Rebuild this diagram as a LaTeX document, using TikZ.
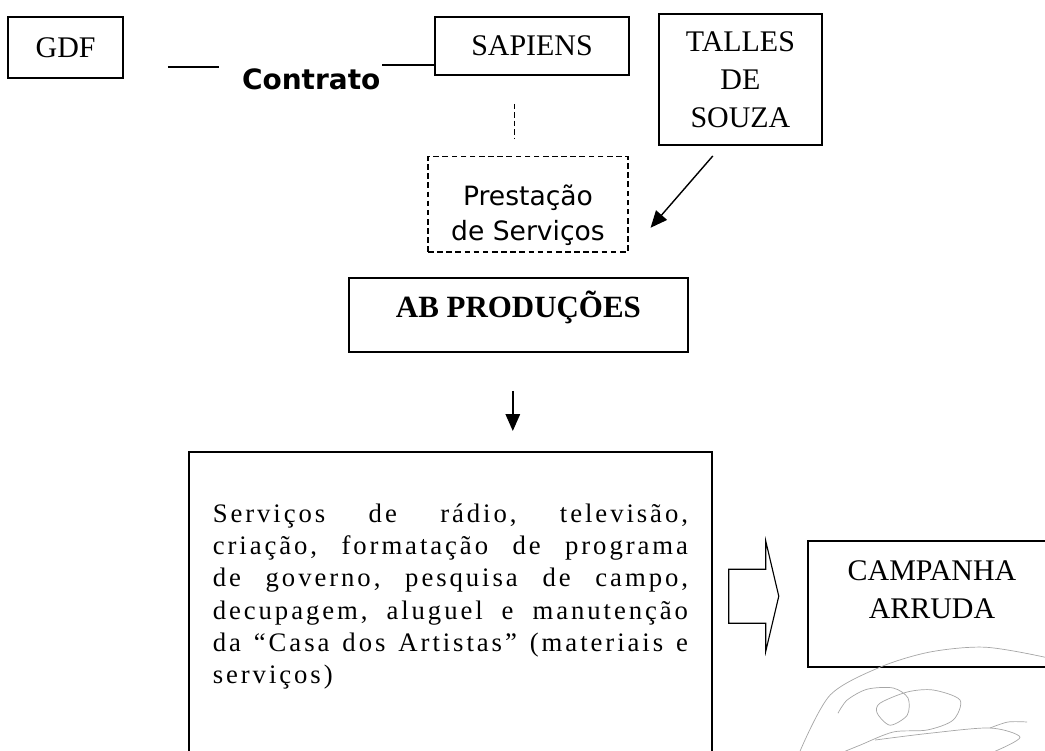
\documentclass[tikz,border=0pt]{standalone}
\usepackage{fontspec}
\setmainfont{Liberation Serif}
\newfontfamily\tahomafont{DejaVu Sans}
\newfontfamily\spacedfont[LetterSpace=11]{Liberation Serif}
\usetikzlibrary{arrows.meta,calc,positioning}
\newcommand{\fullline}[1]{\makebox[11.88cm][l]{#1}}

\begin{document}
\begin{tikzpicture}[
    box/.style={rectangle, draw, line width=1.1pt, inner sep=0pt, align=center, font=\fontsize{21.3}{27}\selectfont},
    dashbox/.style={rectangle, draw, dash pattern=on 4pt off 2.5pt, line width=0.8pt, inner sep=0pt, align=center, font=\tahomafont\fontsize{18.9}{24.9}\selectfont},
    arrow/.style={-{Triangle[length=0.42cm,width=0.36cm]}, line width=1pt},
    link/.style={line width=1pt}
]
    \useasboundingbox (0,0) rectangle (26.125,-18.775);
    \clip (0,0) rectangle (26.125,-18.775);

    % Top row
    \node[box, minimum width=2.88cm, minimum height=1.53cm] (gdf) at (1.64,-1.19) {GDF};
    \node[font=\tahomafont\bfseries\fontsize{19.9}{24}\selectfont, anchor=base] (contrato) at (7.78,-2.25) {Contrato};
    \node[box, minimum width=4.85cm, minimum height=1.45cm] (sapiens) at (13.3,-1.15) {SAPIENS};
    \node[box, minimum width=4.08cm, minimum height=3.28cm] (talles) at (18.51,-1.99) {TALLES\\DE\\SOUZA};

    % Services
    \node[dashbox, minimum width=5cm, minimum height=2.38cm] (prest) at (13.2,-5.11) {\rule{0pt}{1.06cm}Prestação\\de Serviços};
    \node[box, font=\bfseries\fontsize{22}{26}\selectfont, minimum width=8.48cm, minimum height=1.85cm] (ab) at (12.96,-7.88) {AB PRODUÇÕES\rule[-0.56cm]{0pt}{0pt}};

    % Description
    \node[box, font=\spacedfont\fontsize{19}{23}\selectfont, align=left, text width=11.88cm, inner xsep=0.6cm, minimum height=7.95cm] (servicos) at (11.26,-15.28) {%
        \fullline{Serviços\hfill de\hfill rádio,\hfill televisão,}\\
        \fullline{criação,\hfill formatação\hfill de\hfill programa}\\
        \fullline{de\hfill governo,\hfill pesquisa\hfill de\hfill campo,}\\
        \fullline{decupagem,\hfill aluguel\hfill e\hfill manutenção}\\
        \fullline{da\hfill “Casa\hfill dos\hfill Artistas”\hfill (materiais\hfill e}\\
        serviços)\rule[-0.875cm]{0pt}{0pt}};

    \node[box, minimum width=6.2cm, minimum height=3.15cm] (campanha) at (23.3,-15.1) {CAMPANHA\\ARRUDA\rule[-0.7cm]{0pt}{0pt}};

    % Connectors
    \draw[link] ([xshift=1.1cm,yshift=-0.49cm]gdf.east) -- ++(1.28,0);
    \draw[link] ([yshift=-0.475cm]sapiens.west) -- ++(-1.3,0);
    \draw[dash pattern=on 4pt off 2pt, line width=0.6pt] ([xshift=-0.45cm,yshift=-0.7cm]sapiens.south) -- ++(0,-0.88);
    \draw[arrow] ([xshift=-0.69cm,yshift=-0.25cm]talles.south) -- ([xshift=0.55cm,yshift=0.62cm]prest.south east);
    \draw[arrow] ([xshift=-0.14cm,yshift=-0.95cm]ab.south) -- ++(0,-1);

    % Hollow arrow
    \coordinate (arr) at ([xshift=0.4cm,yshift=0.375cm]servicos.east);
    \draw[line width=0.8pt] (arr) ++(0,0.675) -- ++(0.925,0) -- ++(0,0.7) -- ++(0.325,-1.375)
        -- ++(-0.325,-1.375) -- ++(0,0.7) -- ++(-0.925,0) -- cycle;

    % Signature
    \begin{scope}[gray!70, line width=0.5pt]
        \draw plot[smooth] coordinates {(20,-18.78) (20.75,-17.38) (22,-16.68) (23.25,-16.3) (24.62,-16.18) (26.12,-16.43) (26.5,-16.6)};
        \draw plot[smooth] coordinates {(20.95,-17.83) (21.18,-17.5) (21.68,-17.23) (22.33,-17.2) (22.7,-17.45) (22.68,-17.88) (22.25,-18.13) (21.93,-17.83) (22,-17.58) (22.68,-17.3) (23.33,-17.25) (24,-17.5) (23.83,-18) (23.18,-18.25) (22.33,-18.3) (21.5,-18.63) (21.13,-18.78)};
        \draw plot[smooth] coordinates {(21.88,-18.5) (23.25,-18.33) (24.75,-18.2) (25.5,-18.43) (24.88,-18.78)};
        \draw plot[smooth] coordinates {(24.75,-18.2) (25.2,-18.05) (25.68,-18.05)};
    \end{scope}
\end{tikzpicture}
\end{document}
